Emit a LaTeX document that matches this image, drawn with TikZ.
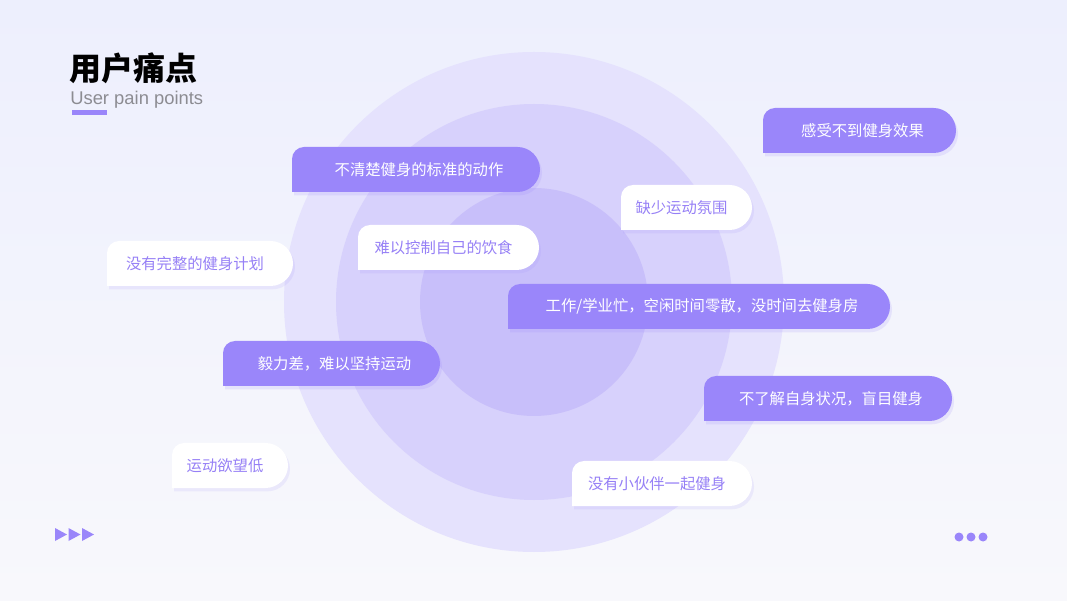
\documentclass[tikz,border=0pt]{standalone}
\usepackage{fontspec}
\setmainfont{Liberation Sans}
\newfontfamily\cjkfont{Noto Sans CJK SC}
\usetikzlibrary{shadows}
\definecolor{bgtop}      {RGB}{237,239,253}
\definecolor{bgbottom}   {RGB}{248,248,252}
\definecolor{ringouter}  {RGB}{229,226,253}
\definecolor{ringmid}    {RGB}{215,209,252}
\definecolor{ringinner}  {RGB}{200,191,250}
\definecolor{painpurple} {RGB}{154,134,250}
\definecolor{paintext}   {RGB}{150,128,246}
\definecolor{subgray}    {RGB}{140,140,146}

%% bubble: name, left, top, width, kind (p/w), text
\newcommand{\painbubble}[6]{%
  \fill[#5fill] (#2,#3-45) -- (#2,#3-12) arc[start angle=180,end angle=90,radius=12]
    -- (#2+#4-22.5,#3) arc[start angle=90,end angle=-90,radius=22.5] -- cycle;
  \node[#5text] (#1) at (#2+#4/2,#3-22.5) {#6};}

\begin{document}
\begin{tikzpicture}[
  x=0.75pt,y=0.75pt,
  bubfont/.style={font=\cjkfont\fontsize{11.5}{14}\selectfont,inner sep=0pt},
  pfill/.style={fill=painpurple,
                drop shadow={shadow xshift=1.5pt,shadow yshift=-2.5pt,opacity=0.16,fill=painpurple}},
  wfill/.style={fill=white,
                drop shadow={shadow xshift=1.5pt,shadow yshift=-2.5pt,opacity=0.12,fill=painpurple}},
  ptext/.style={bubfont,text=white,xshift=2.25pt},
  wtext/.style={bubfont,text=paintext,xshift=-3.75pt},
]

%% ── Background ──────────────────────────────────────────────────────────────
\shade[top color=bgtop,bottom color=bgbottom] (0,0) rectangle (1067,600);
\useasboundingbox (0,0) rectangle (1067,600);

%% ── Rings ───────────────────────────────────────────────────────────────────
\coordinate (ctr) at (534,298);
\fill[ringouter] (ctr) circle[radius=250];
\fill[ringmid]   (ctr) circle[radius=198];
\fill[ringinner] (ctr) circle[radius=114];

%% ── Title ───────────────────────────────────────────────────────────────────
\node[anchor=west,inner sep=0pt,font=\cjkfont\bfseries\fontsize{24}{28}\selectfont]
  (title) at (69,532) {用户痛点};
\node[anchor=west,inner sep=0pt,text=subgray,font=\fontsize{13.8}{16}\selectfont]
  (subtitle) at (70,500) {User pain points};
\fill[painpurple] (72,485) rectangle (107,490);

%% ── Pain point bubbles ──────────────────────────────────────────────────────
\painbubble{effect}{763}{492}{193}{p}{感受不到健身效果}
\painbubble{moves}{292}{453}{248}{p}{不清楚健身的标准的动作}
\painbubble{mood}{621}{415}{131}{w}{缺少运动氛围}
\painbubble{diet}{358}{375}{181}{w}{难以控制自己的饮食}
\painbubble{plan}{107}{359}{186}{w}{没有完整的健身计划}
\painbubble{busy}{508}{316}{382}{p}{工作/学业忙，空闲时间零散，没时间去健身房}
\painbubble{will}{223}{259}{217}{p}{毅力差，难以坚持运动}
\painbubble{blind}{704}{224}{248}{p}{不了解自身状况，盲目健身}
\painbubble{desire}{172}{157}{116}{w}{运动欲望低}
\painbubble{buddy}{572}{139}{180}{w}{没有小伙伴一起健身}

%% ── Corner marks ────────────────────────────────────────────────────────────
\foreach \i in {0,1,2}
  \fill[painpurple] (55+13.5*\i,72) -- (55+13.5*\i,59) -- (67+13.5*\i,65.5) -- cycle;
\foreach \i in {0,1,2}
  \fill[painpurple] (959+12*\i,63) circle[radius=4.5];

\end{tikzpicture}
\end{document}
